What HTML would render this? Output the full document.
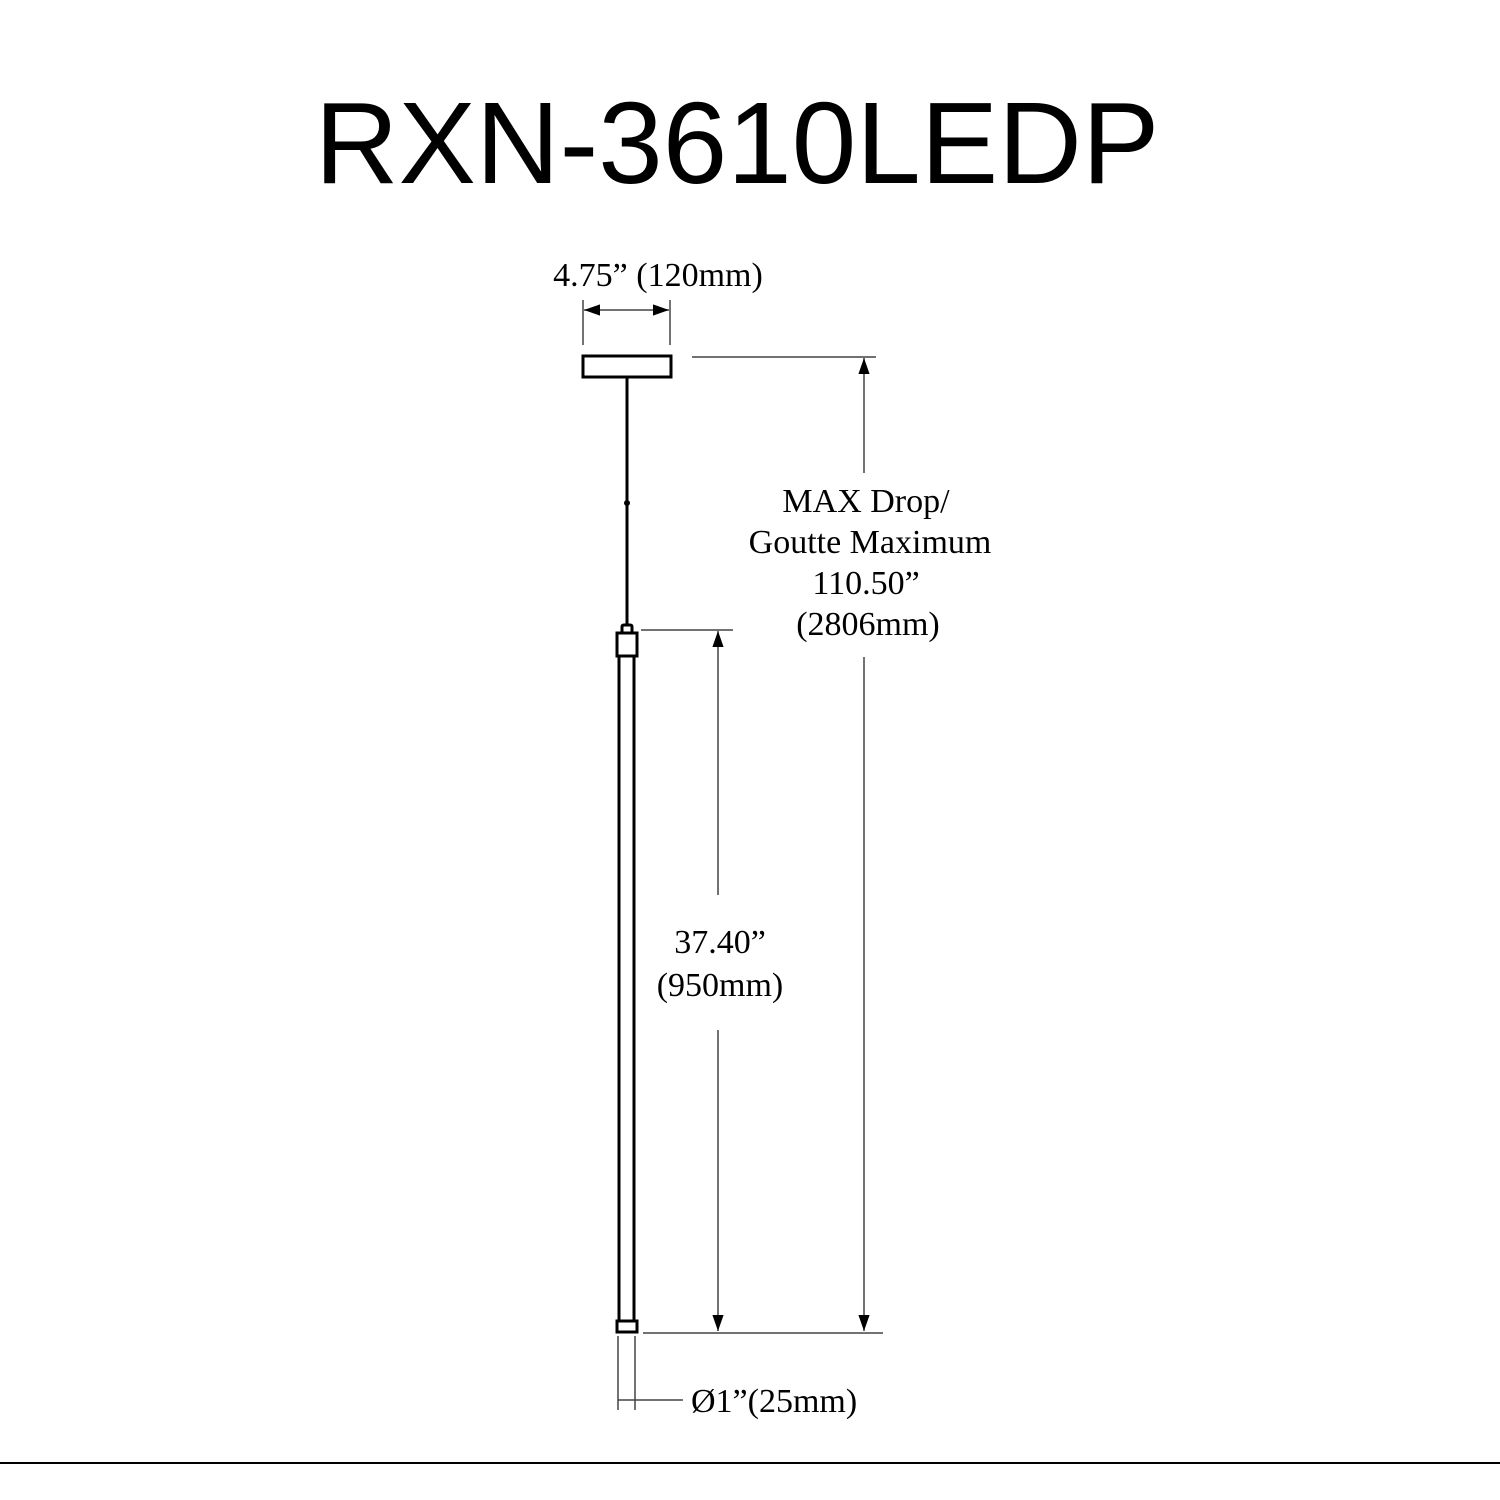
<!DOCTYPE html>
<html><head><meta charset="utf-8"><style>
html,body{margin:0;padding:0;background:#fff;width:1500px;height:1500px;overflow:hidden}
</style></head><body>
<svg width="1500" height="1500" xmlns="http://www.w3.org/2000/svg">
<defs>
<marker id="a" viewBox="0 0 10 10" refX="10" refY="5" markerWidth="16" markerHeight="16" markerUnits="userSpaceOnUse" orient="auto-start-reverse"><path d="M0,1.5 L10,5 L0,8.5 z" fill="#000"/></marker>
</defs>
<text x="737" y="183" font-family="Liberation Sans, sans-serif" font-size="116" text-anchor="middle" fill="#000">RXN-3610LEDP</text>
<g font-family="Liberation Serif, serif" font-size="34" fill="#000" text-anchor="middle">
<text x="658" y="286">4.75” (120mm)</text>
<text x="866" y="512">MAX Drop/</text>
<text x="870" y="553">Goutte Maximum</text>
<text x="866" y="594">110.50”</text>
<text x="868" y="635">(2806mm)</text>
<text x="720" y="953">37.40”</text>
<text x="720" y="996">(950mm)</text>
<text x="691" y="1412" text-anchor="start">Ø1”(25mm)</text>
</g>
<g stroke="#444" stroke-width="1.5" fill="none">
<line x1="583" y1="300" x2="583" y2="345"/>
<line x1="670" y1="300" x2="670" y2="345"/>
<line x1="584" y1="310" x2="669" y2="310" marker-start="url(#a)" marker-end="url(#a)"/>
<line x1="692" y1="357" x2="876" y2="357"/>
<line x1="864" y1="473" x2="864" y2="358" marker-end="url(#a)"/>
<line x1="864" y1="657" x2="864" y2="1331" marker-end="url(#a)"/>
<line x1="641" y1="630" x2="733" y2="630"/>
<line x1="718" y1="895" x2="718" y2="631" marker-end="url(#a)"/>
<line x1="718" y1="1030" x2="718" y2="1331" marker-end="url(#a)"/>
<line x1="643" y1="1333" x2="883" y2="1333"/>
<line x1="618" y1="1336" x2="618" y2="1410"/>
<line x1="635" y1="1336" x2="635" y2="1410"/>
<line x1="618" y1="1400" x2="683" y2="1400"/>
</g>
<g stroke="#000" stroke-width="3" fill="none">
<rect x="583" y="356" width="88" height="21"/>
<line x1="627" y1="377" x2="627" y2="625"/>
<path d="M622,633 V627 Q622,625 624,625 H630 Q632,625 632,627 V633"/>
<rect x="617" y="633" width="20" height="23"/>
<line x1="619" y1="656" x2="619" y2="1321"/>
<line x1="634" y1="656" x2="634" y2="1321"/>
<rect x="617" y="1321" width="20" height="11"/>
</g>
<circle cx="627" cy="503" r="3" fill="#000"/>
<line x1="0" y1="1463" x2="1500" y2="1463" stroke="#000" stroke-width="2"/>
</svg>
</body></html>
